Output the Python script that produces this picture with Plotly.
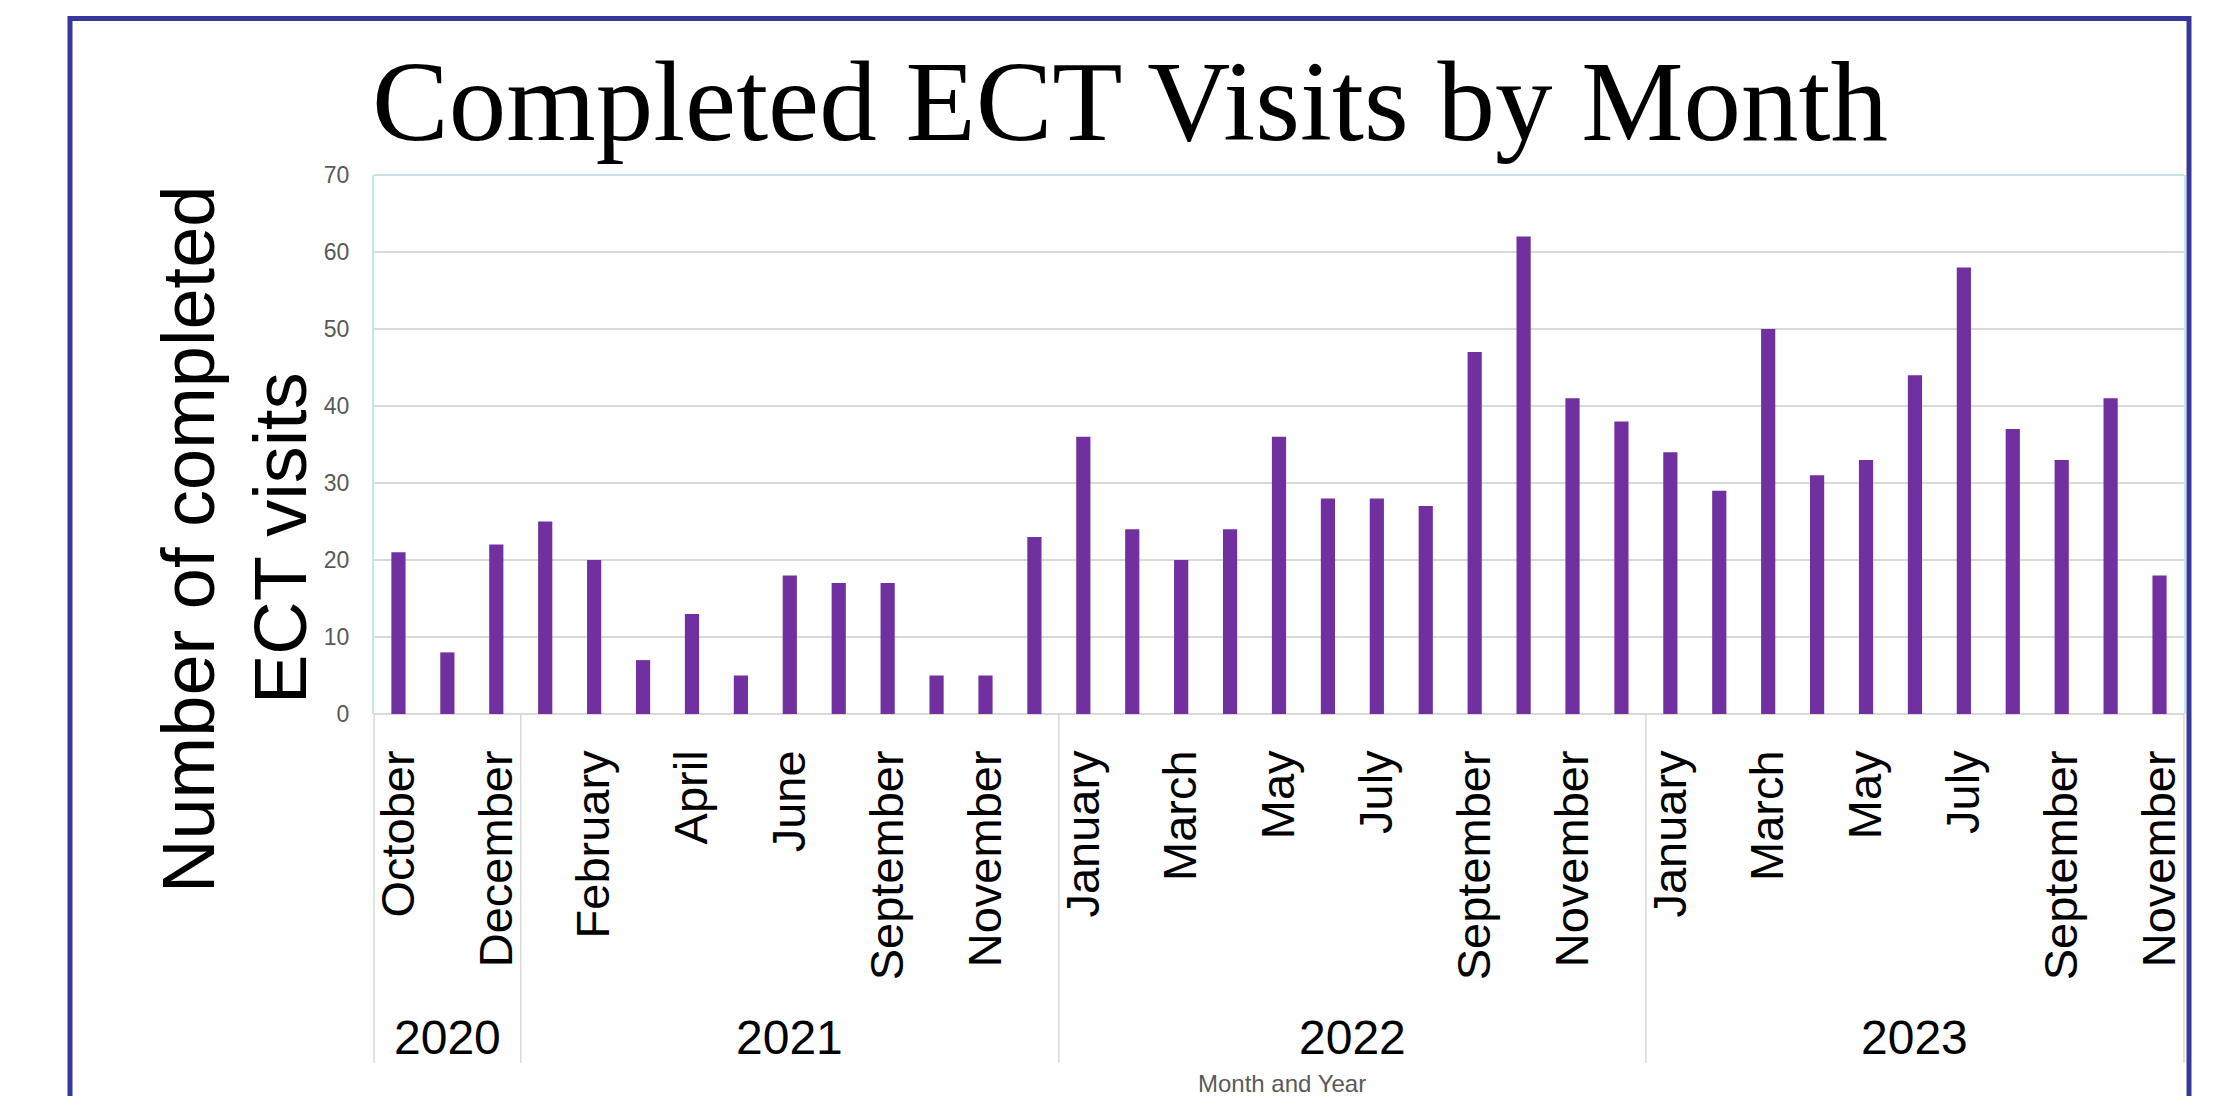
import plotly.graph_objects as go

# ---------------- data ----------------
title_text = "Completed ECT Visits by Month"
y_title_line1 = "Number of completed"
y_title_line2 = "ECT visits"
x_title = "Month and Year"

years = ["2020", "2021", "2022", "2023"]
months_2020 = ["October", "November", "December"]
months_2021 = ["January", "February", "March", "April", "May", "June", "July",
               "September", "October", "November", "December"]
months_2022 = ["January", "February", "March", "April", "May", "June", "July",
               "August", "September", "October", "November", "December"]
months_2023 = ["January", "February", "March", "April", "May", "June", "July",
               "August", "September", "October", "November"]

visits_2020 = [21, 8, 22]
visits_2021 = [25, 20, 7, 13, 5, 18, 17, 17, 5, 5, 23]
visits_2022 = [36, 24, 20, 24, 36, 28, 28, 27, 47, 62, 41, 38]
visits_2023 = [34, 29, 50, 31, 33, 44, 58, 37, 33, 41, 18]

y_tick_values = [0, 10, 20, 30, 40, 50, 60, 70]

# ---------------- assemble ----------------
month_groups = [months_2020, months_2021, months_2022, months_2023]
value_groups = [visits_2020, visits_2021, visits_2022, visits_2023]

months = [m for g in month_groups for m in g]
values = [v for g in value_groups for v in g]
idx = list(range(len(values)))
n = len(values)

# ---------------- layout geometry (pixels) ----------------
W, H = 2221, 1096
L, R, T, B = 374, 2184, 175, 714
PW, PH = R - L, B - T


def px_x(px):
    return (px - L) / PW


def px_y(py):
    return (B - py) / PH


BAR_COLOR = "#7030a0"
GRID = "#d9d9d9"
BORDER = "#c6e4e7"
FRAME = "#38389c"
TICK_GREY = "#595959"
SANS = "Liberation Sans, Arial, sans-serif"
SERIF = "Liberation Serif, Times New Roman, serif"

fig = go.Figure()
fig.add_trace(go.Bar(
    x=idx, y=values,
    marker=dict(color=BAR_COLOR, line=dict(width=0)),
    width=0.29,
    hoverinfo="y",
))

shapes = []
# outer frame
shapes.append(dict(type="rect", xref="paper", yref="paper",
                   x0=px_x(70), x1=px_x(2189), y0=px_y(18.5), y1=px_y(1140),
                   line=dict(color=FRAME, width=5), fillcolor="rgba(0,0,0,0)",
                   layer="above"))
# plot border top
shapes.append(dict(type="line", xref="paper", yref="paper",
                   x0=0, x1=1, y0=1, y1=1,
                   line=dict(color=BORDER, width=2), layer="above"))

# group dividers (paper coords derived from category counts)
bounds = [-0.5]
for g in value_groups:
    bounds.append(bounds[-1] + len(g))
for b in bounds:
    xp = (b + 0.5) / n
    shapes.append(dict(type="line", xref="paper", yref="paper",
                       x0=xp, x1=xp, y0=0, y1=px_y(1063),
                       line=dict(color=GRID, width=1.5), layer="above"))

annotations = []
# year labels
for yr, lo, hi in zip(years, bounds[:-1], bounds[1:]):
    annotations.append(dict(text=yr, xref="x", yref="paper",
                            x=(lo + hi) / 2, y=px_y(1037),
                            xanchor="center", yanchor="middle",
                            showarrow=False,
                            font=dict(family=SANS, size=48, color="black")))
# y title (two lines)
annotations.append(dict(text=y_title_line1, xref="paper", yref="paper",
                        x=px_x(188), y=px_y(540), textangle=-90,
                        xanchor="center", yanchor="middle", showarrow=False,
                        font=dict(family=SANS, size=74, color="black")))
annotations.append(dict(text=y_title_line2, xref="paper", yref="paper",
                        x=px_x(280), y=px_y(538), textangle=-90,
                        xanchor="center", yanchor="middle", showarrow=False,
                        font=dict(family=SANS, size=74, color="black")))
# x title
annotations.append(dict(text=x_title, xref="paper", yref="paper",
                        x=px_x(1282), y=px_y(1083),
                        xanchor="center", yanchor="middle", showarrow=False,
                        font=dict(family=SANS, size=24, color=TICK_GREY)))
# chart title
annotations.append(dict(text=title_text, xref="paper", yref="paper",
                        x=px_x(1130), y=px_y(101),
                        xanchor="center", yanchor="middle", showarrow=False,
                        font=dict(family=SERIF, size=115, color="black")))

fig.update_layout(
    width=W, height=H,
    margin=dict(l=L, r=W - R, t=T, b=H - B, pad=0),
    paper_bgcolor="white", plot_bgcolor="white",
    showlegend=False,
    bargap=0.71,
    shapes=shapes,
    annotations=annotations,
    xaxis=dict(
        range=[-0.5, n - 0.5],
        tickmode="array",
        tickvals=idx[::2],
        ticktext=months[::2],
        tickangle=-90,
        tickfont=dict(family=SANS, size=47, color="black"),
        ticks="",
        ticklabelstandoff=26,
        showgrid=False,
        zeroline=False,
        showline=False,
        fixedrange=True,
    ),
    yaxis=dict(
        range=[0, 70],
        tickmode="array",
        tickvals=y_tick_values,
        tickfont=dict(family=SANS, size=23, color=TICK_GREY),
        ticks="",
        ticklabelstandoff=18,
        showgrid=True, gridcolor=GRID, gridwidth=2,
        zeroline=True, zerolinecolor=GRID, zerolinewidth=2,
        showline=True, linecolor=BORDER, linewidth=2, mirror=True,
        fixedrange=True,
    ),
)

fig.write_html("out.html", config={"displayModeBar": False},
               post_script="document.body.style.margin='0';")
